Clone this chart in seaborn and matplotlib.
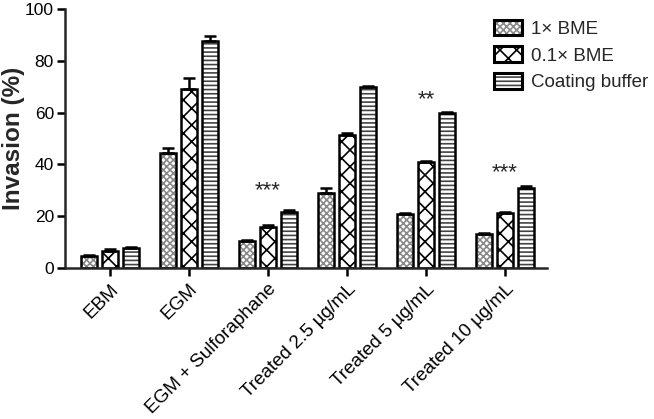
import pandas as pd
import numpy as np
import matplotlib
matplotlib.use("Agg")
import matplotlib.pyplot as plt
import matplotlib.patches as mpatches
from matplotlib.legend_handler import HandlerTuple
import seaborn as sns

groups = ['EBM', 'EGM', 'EGM + Sulforaphane', 'Treated 2.5 \u00b5g/mL',
          'Treated 5 \u00b5g/mL', 'Treated 10 \u00b5g/mL']
series = ['1\u00d7 BME', '0.1\u00d7 BME', 'Coating buffer']
bme_1x = [4.5, 44.5, 10.3, 29.0, 20.7, 13.2]
bme_01x = [6.5, 69.0, 16.0, 51.5, 41.0, 21.2]
coating = [7.8, 87.5, 21.8, 70.0, 60.0, 31.0]
err_1x = [0.5, 1.8, 0.4, 1.8, 0.5, 0.5]
err_01x = [0.8, 4.5, 0.5, 0.6, 0.5, 0.5]
err_coating = [0.3, 2.2, 0.5, 0.4, 0.4, 0.6]
stars = ['', '', '***', '', '**', '***']
star_y = [0, 0, 30, 0, 65, 37]

sns.set_style('ticks')
plt.rcParams['font.family'] = ['Liberation Sans', 'DejaVu Sans']
plt.rcParams['hatch.linewidth'] = 1.2

df = pd.DataFrame({
    'group': groups * 3,
    'series': [series[0]] * 6 + [series[1]] * 6 + [series[2]] * 6,
    'value': bme_1x + bme_01x + coating,
})

fig = plt.figure(figsize=(6.54, 4.19), dpi=100)
ax = fig.add_axes([0.0994, 0.36, 0.737, 0.619])

sns.barplot(data=df, x='group', y='value', hue='series', order=groups,
            hue_order=series, palette=['white'] * 3, edgecolor='black',
            linewidth=1.8, width=0.8, gap=0.22, errorbar=None, ax=ax,
            legend=False)

bar_conts = list(ax.containers)
hatches = ['xxxxx', 'XX', '----']
hatch_cols = ['#8a8a8a', 'black', '#444444']
errs = [err_1x, err_01x, err_coating]
handles = []
for cont, h, hc, e in zip(bar_conts, hatches, hatch_cols, errs):
    xs, ys = [], []
    for p in cont.patches:
        # hatch takes the edge colour, so outline is redrawn in black on top
        p.set_hatch(h)
        p.set_edgecolor(hc)
        p.set_linewidth(0)
        ax.add_patch(mpatches.Rectangle((p.get_x(), p.get_y()), p.get_width(),
                                        p.get_height(), fill=False,
                                        edgecolor='black', linewidth=1.8,
                                        zorder=p.get_zorder() + 0.1))
        xs.append(p.get_x() + p.get_width() / 2)
        ys.append(p.get_height())
    ax.errorbar(xs, ys, yerr=[np.zeros(len(e)), e], fmt='none', ecolor='black',
                elinewidth=1.8, capsize=4, capthick=1.8, zorder=1)
    handles.append((mpatches.Patch(facecolor='white', hatch=h, edgecolor=hc, linewidth=0),
                    mpatches.Patch(fill=False, edgecolor='black', linewidth=2.2)))

for i, s in enumerate(stars):
    if s:
        ax.text(i, star_y[i], s, ha='center', va='center', fontsize=16)

ax.set_ylim(0, 100)
ax.set_xlim(-0.57, 5.53)
ax.set_yticks([0, 20, 40, 60, 80, 100])
ax.set_xlabel('')
ax.set_ylabel('Invasion (%)', fontsize=17.5, fontweight='bold')
ax.yaxis.set_label_coords(-0.083, 0.5)
ax.tick_params(axis='y', labelsize=12.5, width=1.8, length=6, colors='black', pad=2)
ax.tick_params(axis='x', labelsize=13.6, width=1.8, length=6, colors='black', pad=3)
plt.setp(ax.get_xticklabels(), rotation=45, ha='right', rotation_mode='anchor')
for sp in ['left', 'bottom']:
    ax.spines[sp].set_linewidth(1.8)
sns.despine(ax=ax)

fig.legend(handles, series, handler_map={tuple: HandlerTuple(ndivide=1)},
           frameon=False, fontsize=13.5, loc='upper left',
           bbox_to_anchor=(0.755, 0.953), handlelength=1.5, handleheight=0.9,
           handletextpad=0.5, labelspacing=0.45, borderpad=0, borderaxespad=0)

fig.savefig('out.png', dpi=100)
